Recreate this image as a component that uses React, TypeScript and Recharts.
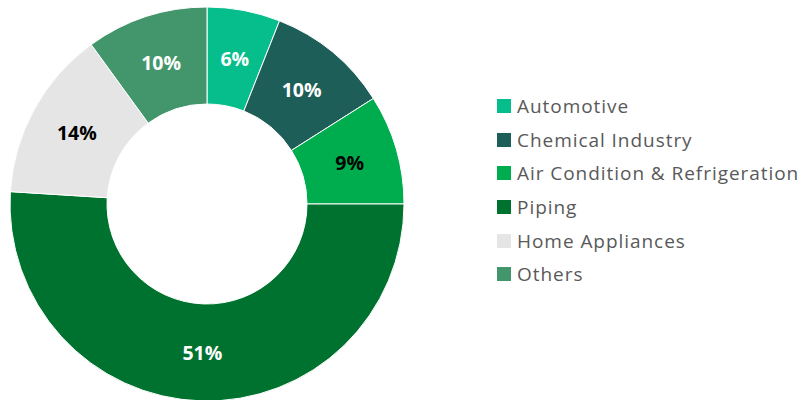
import React from 'react';
import { PieChart, Pie, Cell } from 'recharts';

document.body.style.margin = '0';

const categories = ['Automotive', 'Chemical Industry', 'Air Condition & Refrigeration', 'Piping', 'Home Appliances', 'Others'];
const shares = [6, 10, 9, 51, 14, 10];
const COLORS = ['#05BE8C', '#1E5E58', '#00AD4E', '#00722F', '#E5E5E5', '#43966B'];
const LABEL_COLORS = ['#ffffff', '#ffffff', '#000000', '#ffffff', '#000000', '#ffffff'];

const data = categories.map((name, i) => ({ name, value: shares[i] }));

const RAD = Math.PI / 180;

const renderLabel = (props: any) => {
  const { cx, cy, midAngle, innerRadius, outerRadius, index, value } = props;
  const r = (innerRadius + outerRadius) / 2;
  const x = cx + r * Math.cos(-midAngle * RAD);
  const y = cy + r * Math.sin(-midAngle * RAD);
  return (
    <text
      x={x}
      y={y}
      fill={LABEL_COLORS[index]}
      textAnchor="middle"
      dominantBaseline="central"
      fontFamily="'Open Sans', sans-serif"
      fontWeight={700}
      fontSize={19.5}
    >
      {`${value}%`}
    </text>
  );
};

export default function App() {
  return (
    <div style={{ position: 'relative', width: 803, height: 400, background: '#fff' }}>
      <PieChart width={803} height={400} margin={{ top: 0, right: 0, bottom: 0, left: 0 }}>
        <Pie
          data={data}
          dataKey="value"
          nameKey="name"
          cx={207}
          cy={204}
          innerRadius={100}
          outerRadius={197}
          startAngle={90}
          endAngle={-270}
          stroke="#ffffff"
          strokeWidth={1}
          label={renderLabel}
          labelLine={false}
          isAnimationActive={false}
        >
          {data.map((entry, index) => (
            <Cell key={`cell-${index}`} fill={COLORS[index]} />
          ))}
        </Pie>
      </PieChart>
      {/* legend on the right */}
      <div
        style={{
          position: 'absolute',
          left: 497,
          top: 89,
          fontFamily: "'Open Sans', sans-serif",
          fontSize: 19,
          letterSpacing: 0.95,
          color: '#595959',
        }}
      >
        {categories.map((name, i) => (
          <div key={name} style={{ display: 'flex', alignItems: 'center', height: 33.7, whiteSpace: 'nowrap' }}>
            <span style={{ width: 14, height: 14, background: COLORS[i], display: 'inline-block', marginRight: 6, flexShrink: 0 }} />
            <span>{name}</span>
          </div>
        ))}
      </div>
    </div>
  );
}
